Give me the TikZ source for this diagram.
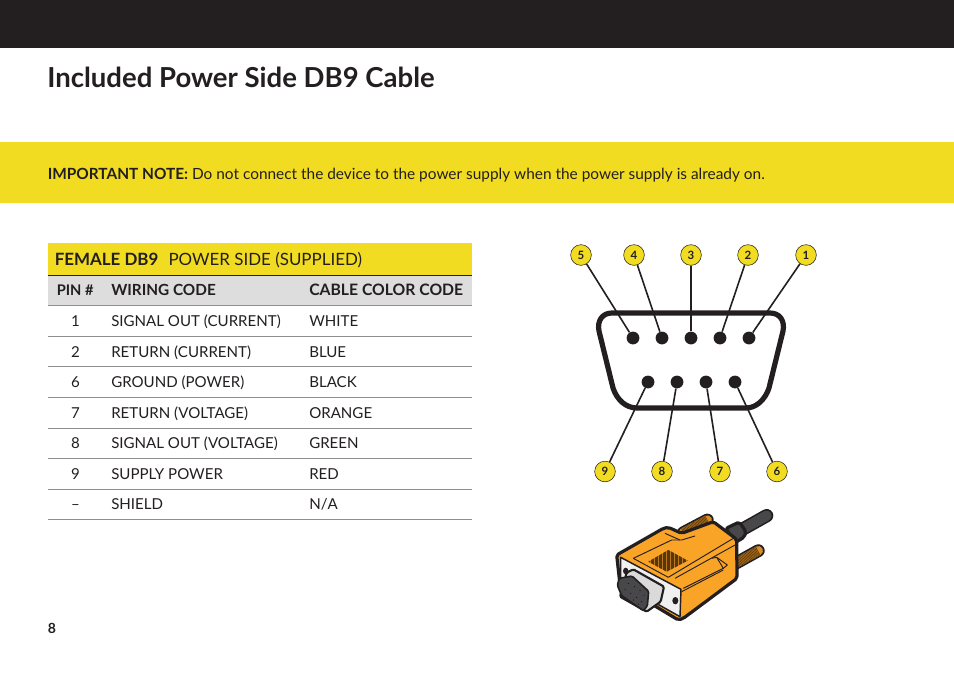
\documentclass[tikz,border=0pt]{standalone}
\usepackage{fontspec}
\setmainfont{Lato}
\definecolor{ink}{HTML}{231F20}
\definecolor{ylw}{HTML}{F2DC22}
\definecolor{hdr}{HTML}{DDDDDD}
\definecolor{rule}{HTML}{8E8E8E}
\definecolor{org}{HTML}{F9A427}
\definecolor{brn}{HTML}{5A360C}
\definecolor{plate}{HTML}{F0F0F0}
\definecolor{shell}{HTML}{DADADA}
\definecolor{dk}{HTML}{48484A}
\tikzset{
 x=0.75pt,y=-0.75pt,
 txt/.style={anchor=base west,inner sep=0,text=ink,font=\fontsize{11.3}{14}\selectfont},
 ctr/.style={txt,anchor=base},
 hb/.style={txt,font=\fontsize{#1}{14}\selectfont\bfseries},
 rowline/.style={rule,line width=0.75pt},
 numlabel/.style={circle,draw=ink,line width=0.4pt,fill=ylw,minimum size=15.5pt,inner sep=0,text=ink,font=\fontsize{8.6}{9}\selectfont\bfseries},
 pin/.style={circle,fill=ink,minimum size=9.6pt,inner sep=0},
 wire/.style={ink,line width=1.2pt},
 outl/.style={draw=ink,line width=2.4pt,line join=round,rounded corners=1.5pt},
 thinl/.style={draw=ink,line width=0.7pt,line join=round},
 thread/.style={brn,line width=#1,dash pattern=on 0.5pt off 0.5pt},
}
\begin{document}
\begin{tikzpicture}
\useasboundingbox (0,0) rectangle (954,682);
\fill[white] (0,0) rectangle (954,682);
\fill[ink] (0,0) rectangle (954,48);
\node[txt,font=\fontsize{20.65}{24}\selectfont\bfseries] (title) at (47,87.5) {Included Power Side DB9 Cable};
\fill[ylw] (0,142) rectangle (954,203);
\node[txt,font=\fontsize{11.55}{14}\selectfont] (note) at (47.5,179) {\textbf{IMPORTANT NOTE:} Do not connect the device to the power supply when the power supply is already on.};
% table
\fill[ylw] (47.5,243) rectangle (472,275);
\fill[hdr] (47.5,275) rectangle (472,305.5);
\draw[ink,line width=0.75pt] (47.5,275) -- (472,275);
\foreach \y in {305.5,336.5,366.5,397.5,428,458.5,489,519.5}{\draw[rowline] (47.5,\y) -- (472,\y);}
\node[txt,font=\fontsize{12.7}{14}\selectfont] (th) at (54.5,265) {\textbf{FEMALE DB9}\hspace{0.6em}POWER SIDE (SUPPLIED)};
\node[hb=11] (h1) at (56.5,295) {PIN \#};
\node[hb=11.5] (h2) at (111,295) {WIRING CODE};
\node[hb=11.8] (h3) at (309,295) {CABLE COLOR CODE};
\foreach \n/\y/\p/\w/\c in {a/326.6/1/SIGNAL OUT (CURRENT)/WHITE,b/357.3/2/RETURN (CURRENT)/BLUE,c/387.6/6/GROUND (POWER)/BLACK,d/418.3/7/RETURN (VOLTAGE)/ORANGE,e/448.6/8/SIGNAL OUT (VOLTAGE)/GREEN,f/479.3/9/SUPPLY POWER/RED,g/509.6/--/SHIELD/N\slash A}{
 \node[ctr] (p\n) at (75.5,\y) {\p};
 \node[txt] (w\n) at (111,\y) {\w};
 \node[txt] (c\n) at (309,\y) {\c};
}
\node[txt,font=\fontsize{10.5}{12}\selectfont\bfseries] (page) at (47.5,633) {8};
% db9 face
\draw[ink,line width=3.9pt,line join=round] (612,313) -- (770,313) .. controls (780,313) and (785,321) .. (783,331) -- (769,388) .. controls (765,400) and (756,408) .. (746,408) -- (637,408) .. controls (626,408) and (617,400) .. (613,388) -- (599,331) .. controls (597,321) and (602,313) .. (612,313) -- cycle;
\foreach \n/\x in {5/633,4/662,3/691,2/720,1/749}{\node[pin] (P\n) at (\x,338) {};}
\foreach \n/\x in {9/648,8/677,7/706,6/735}{\node[pin] (P\n) at (\x,382) {};}
\foreach \n/\x in {5/581,4/634,3/691,2/748,1/806}{\node[numlabel] (L\n) at (\x,255) {\n};}
\foreach \n/\x in {9/605,8/662,7/720,6/777}{\node[numlabel] (L\n) at (\x,471.5) {\n};}
\foreach \n in {1,...,9}{\draw[wire] (L\n) -- (P\n);}
% connector illustration, in 3x crop units
\begin{scope}[shift={(600,500)},x=0.25pt,y=-0.25pt]
 % cable
 \draw[ink,line width=10pt,line cap=round] (420,92) -- (500,47);
 \draw[dk,line width=7.6pt,line cap=round] (420,92) -- (500,47);
 % strain relief
 \draw[outl,fill=dk] (378,85) -- (418,66) -- (438,95) -- (432,112) -- (405,128) -- cycle;
 % screws
 \draw[ink,line width=9.6pt,line cap=round] (250,98) -- (322,60);
 \draw[org!80!brn,line width=7pt,line cap=round] (250,98) -- (322,60);
 \draw[thread=7pt] (250,98) -- (322,60);
 \draw[ink,line width=9.6pt,line cap=round] (385,202) -- (475,152);
 \draw[org!80!brn,line width=7pt,line cap=round] (385,202) -- (475,152);
 \draw[thread=7pt] (385,202) -- (475,152);
 % body
 \draw[outl,fill=org] (50,165) -- (190,85) -- (205,82) -- (245,100) -- (340,65) -- (410,118) -- (411,235) -- (250,355) -- (235,360) -- (60,255) -- cycle;
 % plate
 \draw[thinl,line width=1.1pt,fill=plate] (62,172) -- (243,268) -- (240,350) -- (62,250) -- cycle;
 \fill[ink] (77,213) ellipse (8 and 10);
 \fill[ink] (226,302) ellipse (9 and 11);
 % D shell
 \draw[draw=ink,line width=1.6pt,line join=round,rounded corners=1pt,fill=shell] (80,218) -- (100,208) -- (192,260) -- (182,305) -- (140,335) -- (60,290) -- cycle;
 \draw[draw=ink,line width=1.2pt,line join=round,rounded corners=1pt,fill=dk] (58,235) -- (96,228) -- (146,274) -- (142,318) -- (130,332) -- (65,287) -- (52,256) -- cycle;
 \foreach \a/\b in {85/250,103/260,120/272,132/285,75/268,92/280,110/292,125/305,100/300,115/312}{\fill[black] (\a,\b) circle (1.5);}
 % top lines
 \draw[thinl] (100,175) -- (215,120) -- (245,120) -- (285,108);
 \draw[thinl] (195,100) -- (240,120);
 \draw[thinl] (100,175) -- (205,232) -- (405,112);
 \draw[thinl] (225,235) -- (405,135);
 \draw[thinl] (335,175) -- (350,172) -- (382,195) -- (370,205) -- (250,265);
 \draw[thinl] (245,275) -- (370,210);
 \draw[thinl] (350,172) -- (370,205);
 % vent
 \begin{scope}
  \clip (145,185) -- (205,150) -- (263,182) -- (200,215) -- cycle;
  \fill[org!60!brn] (140,145) rectangle (265,220);
  \draw[thread=18pt] (140,182) -- (265,182);
 \end{scope}
\end{scope}
\end{tikzpicture}
\end{document}
